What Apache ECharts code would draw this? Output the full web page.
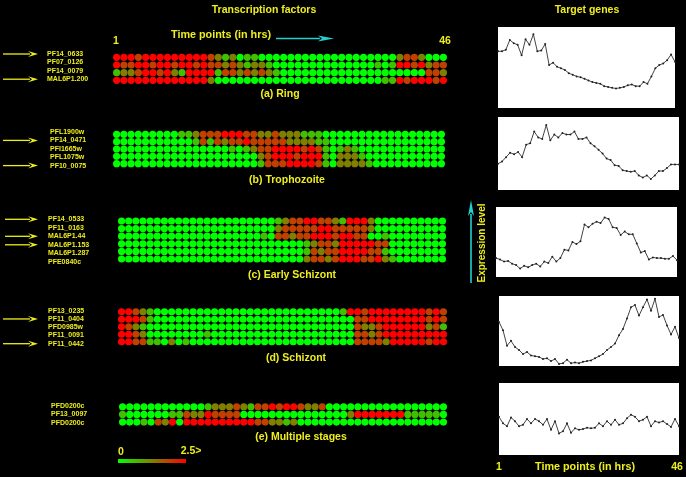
<!DOCTYPE html>
<html><head><meta charset="utf-8">
<script src="https://cdn.jsdelivr.net/npm/echarts@6/dist/echarts.min.js"></script>
<style>html,body{margin:0;padding:0;background:#000}#c{width:686px;height:477px}</style>
</head><body><div id="c"></div>
<script>
// ---------- DATA ----------
const timeStart = 1, timeEnd = 46;
// heatmap levels per row (0 = green ... 4 = red), 46 time points each
const genesA = ['PF14_0633','PF07_0126','PF14_0079','MAL6P1.200'];
const levelsA = [
  "4443444444444"+"3212011"+"0000000000000000000"+"2332"+"000",
  "4334434434434332321221"+"00000000000000"+"1014434233",
  "12234434214444133232321"+"00000000000000000000"+"332",
  "4444444444444"+"2"+"00000000000000000000000"+"11"+"4344434"
];
const genesB = ['PFL1900w','PF14_0471','PFI1665w','PFL1075w','PF10_0075'];
const levelsB = [
  "000000000"+"11233344433223222111"+"00000000000000000",
  "00000000000"+"1313233433333222211"+"0000000000000000",
  "0000000000000000"+"101233444434310121"+"000000000000",
  "00000000000000000000"+"234443444102221"+"00000000000",
  "00000000000000000000"+"1333444431022221"+"0000000000"
];
const genesC = ['PF14_0533','PF11_0163','MAL6P1.44','MAL6P1.153','MAL6P1.287','PFE0840c'];
const levelsC = [
  "0000000000000000000000"+"12334433214442"+"0000000000",
  "0000000000000000000000"+"23333344333332"+"0000000000",
  "00000000000000000000"+"103323344434433001"+"00000000",
  "00000000000000000000000000"+"123324444433"+"00000000",
  "00000000000000000000000000"+"132334444331"+"00000000",
  "00000000000000000000000000"+"2332344433421"+"0000000"
];
const genesD = ['PF13_0235','PF11_0404','PFD0985w','PF11_0091','PF11_0442'];
const levelsD = [
  "44321"+"00000000000000000000000000"+"144344444444343",
  "44431"+"0000000000000000000000000000"+"3344444444343",
  "4321"+"00000000000000000000000000000"+"3223444444231",
  "4432"+"00000000"+"1"+"00000000000000000000"+"3323444444444",
  "4433110201"+"00000000000000000000000"+"3333244444344"
];
const genesE = ['PFD0200c','PF13_0097','PFD0200c'];
const levelsE = [
  "000000000000"+"12223213343443223"+"00000000000000000",
  "10000001132243333"+"000000000000000"+"24444444111110",
  "000103240"+"4444444444"+"332212"+"000000000000000000000"
];
const stageTitles = ['(a) Ring','(b) Trophozoite','(c) Early Schizont','(d) Schizont','(e) Multiple stages'];
const arrowRows = [[0,3],[1,4],[0,2,3],[1,4],[]];
const levelToValue = 0.625; // level 4 -> 2.5
const legendMin = '0', legendMax = '2.5>';

// target gene expression profiles (relative level, 46 time points)
const targetRing = [70,70,72,84,80,78,65,85,78,91,70,71,79,53,56,51,49,47,43,41,39,38,36,34,32,31,30,27,26,25,24,25,26,28,29,27,27,32,30,39,49,53,55,59,66,57];
const targetTropho = [36,39,45,51,49,52,45,62,64,80,72,70,89,68,76,72,78,76,76,80,70,70,72,64,60,55,50,43,41,34,33,27,26,25,26,20,17,20,15,20,26,26,30,35,35,35];
const targetEarlySchiz = [27,25,22,23,19,17,12,16,14,17,19,15,22,20,29,22,27,39,38,50,47,51,75,71,76,79,77,85,83,71,70,60,65,61,61,48,35,37,25,28,27,27,26,26,30,24];
const targetSchiz = [63,51,29,36,27,23,17,20,15,14,13,10,11,7,10,3,4,9,4,5,4,6,7,8,11,14,17,23,27,32,44,53,68,84,87,72,84,95,79,96,70,73,58,45,56,40];
const targetMulti = [53,44,40,52,47,40,42,50,44,50,47,42,50,35,47,30,33,44,31,37,35,36,38,37,38,44,40,47,42,49,42,44,51,56,53,47,49,53,40,47,45,47,43,39,50,40];

// ---------- LAYOUT ----------
const panels = [
  {genes:genesA, levels:levelsA},
  {genes:genesB, levels:levelsB},
  {genes:genesC, levels:levelsC},
  {genes:genesD, levels:levelsD},
  {genes:genesE, levels:levelsE}
];
const heatLayout = [
  {left:113, width:334, top:53.5, height:30.7, labX:47, labY:54,    labDy:8.4,  tX:280, tY:94},
  {left:113, width:332, top:130.6, height:36.75, labX:50, labY:132, labDy:8.4,  tX:287, tY:180},
  {left:118, width:328, top:217.2, height:45.6, labX:48, labY:219.3, labDy:8.5, tX:292, tY:275},
  {left:118, width:329, top:308, height:37.5, labX:48, labY:310.7, labDy:8.25,  tX:296, tY:358},
  {left:119, width:328, top:402.9, height:23, labX:51, labY:406, labDy:8.3,     tX:301, tY:437}
];
const targets = [targetRing, targetTropho, targetEarlySchiz, targetSchiz, targetMulti];
const lineLayout = [
  {left:498, top:27, width:177, height:81},
  {left:498, top:117, width:181, height:73},
  {left:496, top:207, width:181, height:70},
  {left:499, top:296, width:180, height:70},
  {left:499, top:383, width:180, height:72}
];

const YEL = '#eeee1e', CYAN = '#22d0d0';
const FONT = '"Liberation Sans", Arial, sans-serif';

const grids = [], xAxes = [], yAxes = [], series = [];
panels.forEach((p, i) => {
  const L = heatLayout[i];
  grids.push({left:L.left, top:L.top, width:L.width, height:L.height});
  xAxes.push({gridIndex:i, type:'value', min:0.5, max:timeEnd+0.5, show:false});
  yAxes.push({gridIndex:i, type:'value', min:0.5, max:p.levels.length+0.5, inverse:true, show:false});
  const data = [];
  p.levels.forEach((row, r) => {
    row.split('').slice(0, timeEnd).forEach((ch, c) => data.push([c+1, r+1, (+ch)*levelToValue]));
  });
  series.push({type:'scatter', xAxisIndex:i, yAxisIndex:i, data, symbol:'circle', symbolSize:7.2, silent:true, animation:false, itemStyle:{opacity:1}});
});
targets.forEach((vals, k) => {
  const i = 5 + k, L = lineLayout[k];
  grids.push({left:L.left, top:L.top, width:L.width, height:L.height, show:true, backgroundColor:'#ffffff', borderWidth:0});
  xAxes.push({gridIndex:i, type:'value', min:timeStart, max:timeEnd, show:false});
  yAxes.push({gridIndex:i, type:'value', min:0, max:100, show:false});
  series.push({type:'line', xAxisIndex:i, yAxisIndex:i, data: vals.map((v, j) => [j+1, v]),
    symbol:'circle', symbolSize:2, showSymbol:true, silent:true, animation:false,
    lineStyle:{color:'#444', width:1}, itemStyle:{color:'#222'}});
});

// ---------- GRAPHIC (texts, arrows, legend) ----------
const g = [];
function txt(x, y, text, size, opt) {
  opt = opt || {};
  g.push({type:'text', x, y, rotation: opt.rot || 0, silent:true, style:{
    text, fill: opt.color || YEL, font: 'bold ' + size + 'px ' + FONT,
    align: opt.align || 'center', verticalAlign:'middle',
    textAlign: opt.align || 'center', textVerticalAlign:'middle'}});
}
function arrowH(x1, x2, y, color, lw, headL, headW) {
  g.push({type:'line', silent:true, shape:{x1, y1:y, x2:x2-headL+2, y2:y}, style:{stroke:color, lineWidth:lw}});
  g.push({type:'polygon', silent:true, shape:{points:[[x2-headL, y-headW], [x2, y], [x2-headL, y+headW], [x2-headL+4, y]]}, style:{fill:color}});
}
function arrowV(x, y1, y2, color, lw, headL, headW) { // y2 is tip (top)
  g.push({type:'line', silent:true, shape:{x1:x, y1, x2:x, y2:y2+headL-2}, style:{stroke:color, lineWidth:lw}});
  g.push({type:'polygon', silent:true, shape:{points:[[x-headW, y2+headL], [x, y2], [x+headW, y2+headL], [x, y2+headL-4]]}, style:{fill:color}});
}

txt(264, 10, 'Transcription factors', 10.5);
txt(587, 10, 'Target genes', 10.5);
txt(221, 35, 'Time points (in hrs)', 10.8);
arrowH(276, 334, 38.5, CYAN, 1.6, 16, 3);
txt(116, 41, String(timeStart), 10.5);
txt(445, 41, String(timeEnd), 10.5);

panels.forEach((p, i) => {
  const L = heatLayout[i];
  p.genes.forEach((name, r) => txt(L.labX, L.labY + r*L.labDy, name, 7, {align:'left'}));
  arrowRows[i].forEach(r => arrowH(i === 2 ? 5 : 3, 38, L.labY + r*L.labDy, YEL, 1.3, 10, 3));
  txt(L.tX, L.tY, stageTitles[i], 10.5);
});

// colour legend
g.push({type:'rect', silent:true, shape:{x:118, y:459, width:68, height:4}, style:{fill:
  new echarts.graphic.LinearGradient(0, 0, 1, 0, [{offset:0, color:'#00ff00'}, {offset:0.5, color:'#808000'}, {offset:1, color:'#ff0000'}])}});
txt(121, 452, legendMin, 10.5);
txt(191, 451, legendMax, 10.5);

// right side
txt(482, 243, 'Expression level', 10, {rot: Math.PI/2});
arrowV(471, 283, 200, CYAN, 1.6, 16, 3);
txt(499, 467, String(timeStart), 10.5);
txt(585, 467, 'Time points (in hrs)', 10.8);
txt(677, 467, String(timeEnd), 10.5);

const chart = echarts.init(document.getElementById('c'));
chart.setOption({
  backgroundColor:'#000000',
  animation:false,
  grid: grids, xAxis: xAxes, yAxis: yAxes,
  visualMap: {show:false, type:'continuous', min:0, max:2.5, dimension:2, seriesIndex:[0,1,2,3,4],
    inRange:{color:['#00ff00','#808000','#ff0000']}},
  series,
  graphic: {elements: g}
});
</script></body></html>
